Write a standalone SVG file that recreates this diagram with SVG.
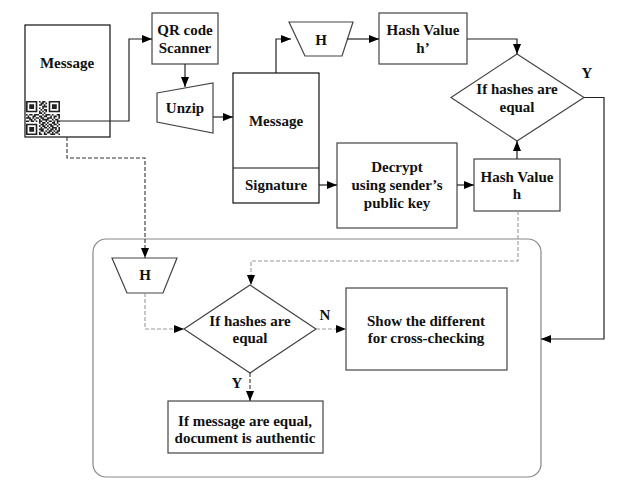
<svg xmlns="http://www.w3.org/2000/svg" width="631" height="491" viewBox="0 0 631 491">
<defs>
<marker id="ah" markerUnits="userSpaceOnUse" markerWidth="10" markerHeight="10" viewBox="0 0 10 10" refX="10" refY="5" orient="auto">
<path d="M0,1 L10,5 L0,9 Z" fill="#000"/>
</marker>
</defs>
<style>
text{font-family:'Liberation Serif','DejaVu Serif','Times New Roman',serif;font-weight:bold;font-size:15px;fill:#111;text-anchor:middle}
.box{fill:#fff;stroke:#444;stroke-width:1.2}
.dk{fill:#fff;stroke:#111;stroke-width:1.2}
.ln{fill:none;stroke:#222;stroke-width:1.2}
.dl{fill:none;stroke:#333;stroke-width:1.1;stroke-dasharray:4,2}
.dg{fill:none;stroke:#999;stroke-width:1.1;stroke-dasharray:4,2}
</style>
<rect width="631" height="491" fill="#fff"/>
<g font-family="Liberation Serif, DejaVu Serif, serif">
<g id="container"><rect x="93" y="239" width="448" height="238" rx="13" fill="none" stroke="#888" stroke-width="1.2"/></g>
<g id="msg-left">
<rect class="dk" x="25" y="25" width="85" height="112"/>
<text x="67" y="68">Message</text>
<g transform="translate(26,101) scale(1.62)" fill="#222">
<path d="M0 0h7v1h-7zM8 0h1v1h-1zM10 0h2v1h-2zM14 0h7v1h-7zM0 1h1v1h-1zM6 1h1v1h-1zM9 1h2v1h-2zM12 1h1v1h-1zM14 1h1v1h-1zM20 1h1v1h-1zM0 2h1v1h-1zM2 2h3v1h-3zM6 2h1v1h-1zM8 2h2v1h-2zM11 2h1v1h-1zM14 2h1v1h-1zM16 2h3v1h-3zM20 2h1v1h-1zM0 3h1v1h-1zM2 3h3v1h-3zM6 3h1v1h-1zM10 3h3v1h-3zM14 3h1v1h-1zM16 3h3v1h-3zM20 3h1v1h-1zM0 4h1v1h-1zM2 4h3v1h-3zM6 4h1v1h-1zM8 4h1v1h-1zM10 4h1v1h-1zM14 4h1v1h-1zM16 4h3v1h-3zM20 4h1v1h-1zM0 5h1v1h-1zM6 5h1v1h-1zM9 5h1v1h-1zM11 5h2v1h-2zM14 5h1v1h-1zM20 5h1v1h-1zM0 6h7v1h-7zM8 6h1v1h-1zM10 6h1v1h-1zM12 6h1v1h-1zM14 6h7v1h-7zM8 7h2v1h-2zM11 7h1v1h-1zM0 8h1v1h-1zM2 8h2v1h-2zM5 8h3v1h-3zM10 8h1v1h-1zM12 8h3v1h-3zM16 8h1v1h-1zM19 8h2v1h-2zM1 9h1v1h-1zM4 9h2v1h-2zM8 9h2v1h-2zM11 9h2v1h-2zM15 9h1v1h-1zM17 9h2v1h-2zM20 9h1v1h-1zM0 10h3v1h-3zM4 10h1v1h-1zM6 10h2v1h-2zM9 10h2v1h-2zM13 10h3v1h-3zM17 10h1v1h-1zM20 10h1v1h-1zM2 11h2v1h-2zM5 11h1v1h-1zM8 11h1v1h-1zM10 11h4v1h-4zM16 11h1v1h-1zM18 11h2v1h-2zM0 12h2v1h-2zM3 12h2v1h-2zM6 12h1v1h-1zM8 12h2v1h-2zM12 12h1v1h-1zM14 12h2v1h-2zM17 12h1v1h-1zM19 12h2v1h-2zM8 13h1v1h-1zM10 13h2v1h-2zM13 13h1v1h-1zM16 13h2v1h-2zM19 13h1v1h-1zM0 14h7v1h-7zM9 14h2v1h-2zM12 14h1v1h-1zM14 14h2v1h-2zM17 14h2v1h-2zM20 14h1v1h-1zM0 15h1v1h-1zM6 15h1v1h-1zM8 15h1v1h-1zM10 15h2v1h-2zM13 15h1v1h-1zM15 15h2v1h-2zM19 15h1v1h-1zM0 16h1v1h-1zM2 16h3v1h-3zM6 16h1v1h-1zM9 16h1v1h-1zM11 16h2v1h-2zM14 16h1v1h-1zM16 16h3v1h-3zM20 16h1v1h-1zM0 17h1v1h-1zM2 17h3v1h-3zM6 17h1v1h-1zM8 17h3v1h-3zM13 17h1v1h-1zM15 17h2v1h-2zM18 17h1v1h-1zM20 17h1v1h-1zM0 18h1v1h-1zM2 18h3v1h-3zM6 18h1v1h-1zM9 18h2v1h-2zM12 18h1v1h-1zM14 18h2v1h-2zM17 18h1v1h-1zM19 18h2v1h-2zM0 19h1v1h-1zM6 19h1v1h-1zM8 19h1v1h-1zM11 19h1v1h-1zM13 19h2v1h-2zM16 19h1v1h-1zM18 19h2v1h-2zM0 20h7v1h-7zM8 20h2v1h-2zM11 20h2v1h-2zM15 20h3v1h-3zM20 20h1v1h-1z"/>
</g>
</g>
<g id="qr-scanner"><rect class="box" x="152" y="13" width="66" height="51"/><text x="185" y="35">QR code</text><text x="185" y="53">Scanner</text></g>
<g id="unzip"><path class="box" d="M157,93 L213,83 L213,133 L157,122 Z"/><text x="185" y="113">Unzip</text></g>
<g id="msg-sig"><rect class="dk" x="233" y="73" width="86" height="130"/><line x1="233" y1="168" x2="319" y2="168" stroke="#111" stroke-width="1.2"/><text x="276" y="126">Message</text><text x="276" y="190">Signature</text></g>
<g id="hash-top"><path class="box" d="M289,22 L353,22 L342,56 L305,56 Z"/><text x="321" y="45">H</text></g>
<g id="hash-h-prime"><rect class="box" x="379" y="13" width="88" height="51"/><text x="423" y="35">Hash Value</text><text x="423" y="53">h’</text></g>
<g id="diamond1"><path class="box" d="M517,54 L584,97.5 L517,141 L451,97.5 Z"/><text x="517" y="94">If hashes are</text><text x="517" y="112">equal</text></g>
<g id="decrypt"><rect class="box" x="337" y="143" width="120" height="85"/><text x="397" y="172">Decrypt</text><text x="397" y="190">using sender’s</text><text x="397" y="208">public key</text></g>
<g id="hash-h"><rect class="box" x="474" y="159" width="86" height="52"/><text x="517" y="182">Hash Value</text><text x="517" y="199">h</text></g>
<g id="hash-bottom"><path class="box" d="M112,258 L177,258 L163,293 L127,293 Z" stroke="#666"/><text x="145" y="280">H</text></g>
<g id="diamond2"><path class="box" d="M250,285 L316,329 L250,373 L184,329 Z" stroke="#666"/><text x="250" y="326">If hashes are</text><text x="250" y="343">equal</text></g>
<g id="show-diff"><rect class="box" x="346" y="288" width="161" height="82"/><text x="426" y="326">Show the different</text><text x="426" y="343">for cross-checking</text></g>
<g id="authentic"><rect class="box" x="168" y="401" width="155" height="52" stroke="#666"/><text x="245" y="426">If message are equal,</text><text x="245" y="443">document is authentic</text></g>
<g id="labels"><text x="587" y="78">Y</text><text x="325" y="320">N</text><text x="237" y="388">Y</text></g>
<g id="connectors">
<path class="ln" d="M60,121 H129 V39 H152" marker-end="url(#ah)" stroke="#777"/>
<path class="ln" d="M185,64 V87" marker-end="url(#ah)"/>
<path class="ln" d="M213,117 H233" marker-end="url(#ah)"/>
<path class="ln" d="M276,73 V39 H291" marker-end="url(#ah)"/>
<path class="ln" d="M347,39 H379" marker-end="url(#ah)"/>
<path class="ln" d="M467,39 H517 V54" marker-end="url(#ah)"/>
<path class="ln" d="M584,97.5 H604 V339 H541" marker-end="url(#ah)"/>
<path class="ln" d="M319,185 H337" marker-end="url(#ah)"/>
<path class="ln" d="M457,185 H474" marker-end="url(#ah)"/>
<path class="ln" d="M517,159 V141" marker-end="url(#ah)" stroke="#999"/>
<path class="dl" d="M67,137 V158 H145 V258" marker-end="url(#ah)"/>
<path class="dg" d="M518,211 V261 H251 V285" marker-end="url(#ah)"/>
<path class="dg" d="M145,293 V329 H184" marker-end="url(#ah)"/>
<path class="dg" d="M316,329 H346" marker-end="url(#ah)"/>
<path class="dl" d="M250,373 V401" marker-end="url(#ah)"/>
</g>
</g>
</svg>
